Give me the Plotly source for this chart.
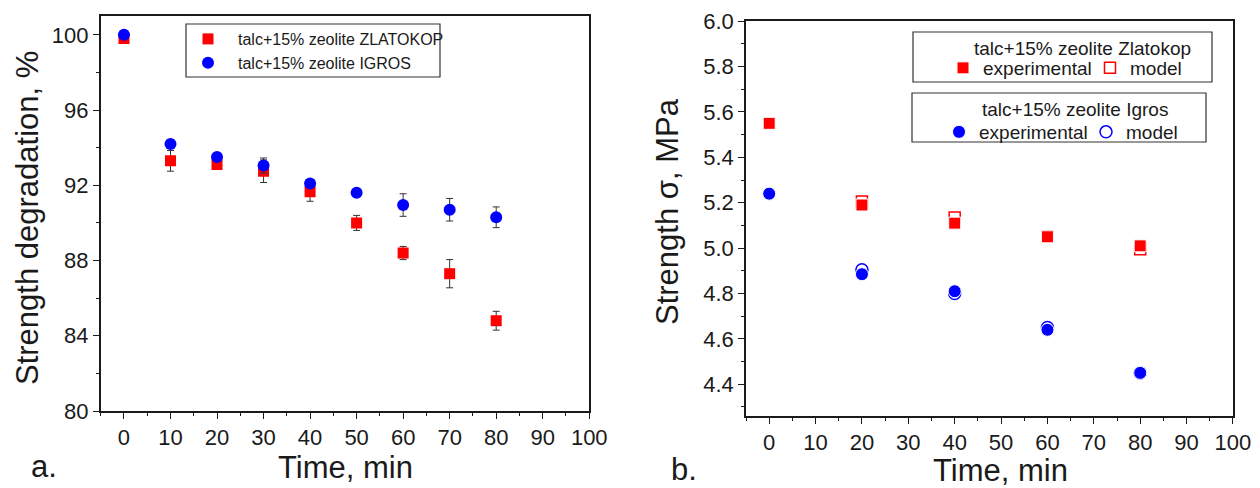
import plotly.graph_objects as go

# Page size (margins are zero, so paper coords map straight to pixels)
W, H = 1260, 488

# Panel a: strength degradation, %
TIME_A        = [0, 10, 20, 30, 40, 50, 60, 70, 80]
ZLATOKOP_DEG  = [99.8, 93.3, 93.1, 92.75, 91.65, 90.0, 88.4, 87.3, 84.8]
ZLATOKOP_ERR  = [0.0, 0.55, 0.25, 0.6, 0.5, 0.4, 0.35, 0.75, 0.5]
IGROS_DEG     = [100.0, 94.2, 93.5, 93.05, 92.1, 91.6, 90.95, 90.7, 90.3]
IGROS_ERR     = [0.0, 0.2, 0.1, 0.4, 0.15, 0.0, 0.6, 0.6, 0.55]

# Panel b: strength sigma, MPa
TIME_B        = [0, 20, 40, 60, 80]
ZLATOKOP_EXP  = [5.55, 5.19, 5.11, 5.05, 5.01]
IGROS_EXP     = [5.24, 4.885, 4.81, 4.64, 4.45]
TIME_MODEL    = [20, 40, 60, 80]
ZLATOKOP_MOD  = [5.205, 5.135, 5.05, 4.995]
IGROS_MOD     = [4.905, 4.80, 4.65, 4.45]

RED  = "#ff0000"
BLUE = "#0000ff"
INK  = "#1a1a1a"
FONT = "Liberation Sans, Arial, sans-serif"


def px(x):
    return x / W


def py(y):
    return 1 - y / H


fig = go.Figure()

# Panel a
err_style = dict(type="data", color="#333333", thickness=1, width=3.5)
fig.add_trace(go.Scatter(
    x=TIME_A, y=ZLATOKOP_DEG, mode="markers", name="talc+15% zeolite ZLATOKOP",
    marker=dict(symbol="square", size=11, color=RED),
    error_y=dict(array=ZLATOKOP_ERR, **err_style),
    xaxis="x", yaxis="y", legend="legend",
))
fig.add_trace(go.Scatter(
    x=TIME_A, y=IGROS_DEG, mode="markers", name="talc+15% zeolite IGROS",
    marker=dict(symbol="circle", size=12, color=BLUE),
    error_y=dict(array=IGROS_ERR, **err_style),
    xaxis="x", yaxis="y", legend="legend",
))

# Panel b: model (open) behind experimental (filled)
fig.add_trace(go.Scatter(
    x=TIME_MODEL, y=ZLATOKOP_MOD, mode="markers", name="model",
    marker=dict(symbol="square-open", size=11, color=RED, line=dict(width=1.5)),
    xaxis="x2", yaxis="y2", legend="legend2", legendrank=2,
))
fig.add_trace(go.Scatter(
    x=TIME_B, y=ZLATOKOP_EXP, mode="markers", name="experimental",
    marker=dict(symbol="square", size=12, color=RED, line=dict(width=1, color="white")),
    xaxis="x2", yaxis="y2", legend="legend2", legendrank=1,
))
fig.add_trace(go.Scatter(
    x=TIME_MODEL, y=IGROS_MOD, mode="markers", name="model",
    marker=dict(symbol="circle-open", size=12, color=BLUE, line=dict(width=1.5)),
    xaxis="x2", yaxis="y2", legend="legend3", legendrank=2,
))
fig.add_trace(go.Scatter(
    x=TIME_B, y=IGROS_EXP, mode="markers", name="experimental",
    marker=dict(symbol="circle", size=13, color=BLUE, line=dict(width=1, color="white")),
    xaxis="x2", yaxis="y2", legend="legend3", legendrank=1,
))

axis_style = dict(
    showline=True, linecolor=INK, linewidth=1.5, mirror=True,
    ticks="outside", ticklen=6, tickwidth=1.3, tickcolor=INK,
    showgrid=False, zeroline=False, automargin=False,
    tickfont=dict(family=FONT, size=22, color=INK),
)

legend_clear = dict(
    bgcolor="rgba(0,0,0,0)", borderwidth=0,
    xanchor="left", yanchor="middle",
)

fig.update_layout(
    width=W, height=H,
    margin=dict(l=0, r=0, t=0, b=0, autoexpand=False),
    paper_bgcolor="white", plot_bgcolor="white",
    font=dict(family=FONT, color=INK),
    xaxis=dict(
        domain=[px(100.7), px(589.3)], range=[-5, 100.01], anchor="y",
        tickvals=list(range(0, 101, 10)),
        minor=dict(ticks="outside", ticklen=3, tickcolor=INK, dtick=5, tick0=0),
        **axis_style,
    ),
    yaxis=dict(
        domain=[py(411), py(16)], range=[80, 101], anchor="x",
        tick0=80, dtick=4,
        minor=dict(ticks="outside", ticklen=3, tickcolor=INK, dtick=2, tick0=80),
        **axis_style,
    ),
    xaxis2=dict(
        domain=[px(746), px(1233)], range=[-5, 100.01], anchor="y2",
        tickvals=list(range(0, 101, 10)),
        minor=dict(ticks="outside", ticklen=3, tickcolor=INK, dtick=5, tick0=0),
        **axis_style,
    ),
    yaxis2=dict(
        domain=[py(416), py(21)], range=[4.26, 6.001], anchor="x2",
        tick0=4.4, dtick=0.2, tickformat=".1f",
        minor=dict(ticks="outside", ticklen=3, tickcolor=INK, dtick=0.1, tick0=4.4),
        **axis_style,
    ),
    legend=dict(
        x=px(178), y=py(51), font=dict(size=16, family=FONT),
        itemwidth=50, tracegroupgap=0, **legend_clear,
    ),
    legend2=dict(
        x=px(943), y=py(68), orientation="h", entrywidth=102,
        font=dict(size=19, family=FONT), **legend_clear,
    ),
    legend3=dict(
        x=px(939), y=py(132), orientation="h", entrywidth=102,
        font=dict(size=19, family=FONT), **legend_clear,
    ),
)

# Legend frames
frame = dict(type="rect", xref="paper", yref="paper",
             line=dict(color="#333333", width=1.2), fillcolor="rgba(0,0,0,0)", layer="above")
fig.add_shape(x0=px(913), x1=px(1212), y0=py(82), y1=py(32), **frame)
fig.add_shape(x0=px(912), x1=px(1206), y0=py(142), y1=py(93), **frame)
fig.add_shape(x0=px(186), x1=px(440), y0=py(77), y1=py(24), **frame)

# Legend group titles, axis titles and panel labels
legend_title_font = dict(family=FONT, size=19, color=INK)
title_font = dict(family=FONT, size=31, color=INK)
labels = [
    dict(text="talc+15% zeolite Zlatokop", x=px(1082), y=py(48), font=legend_title_font),
    dict(text="talc+15% zeolite Igros", x=px(1075), y=py(109), font=legend_title_font),
    dict(text="Strength degradation, %", x=px(27), y=py(218), textangle=-90, font=title_font),
    dict(text="Time, min", x=px(345), y=py(467), font=title_font),
    dict(text="a.", x=px(44), y=py(466), font=title_font),
    dict(text="Strength \u03c3, MPa", x=px(668), y=py(212), textangle=-90, font=title_font),
    dict(text="Time, min", x=px(1000), y=py(470), font=title_font),
    dict(text="b.", x=px(684), y=py(469), font=title_font),
]
for lab in labels:
    fig.add_annotation(
        xref="paper", yref="paper", showarrow=False,
        xanchor="center", yanchor="middle", **lab,
    )

# Drop the browser's default body margin so the figure sits at the page corner
fig.write_html(
    "out.html",
    config={"displayModeBar": False},
    post_script="document.body.style.margin = '0';",
)
